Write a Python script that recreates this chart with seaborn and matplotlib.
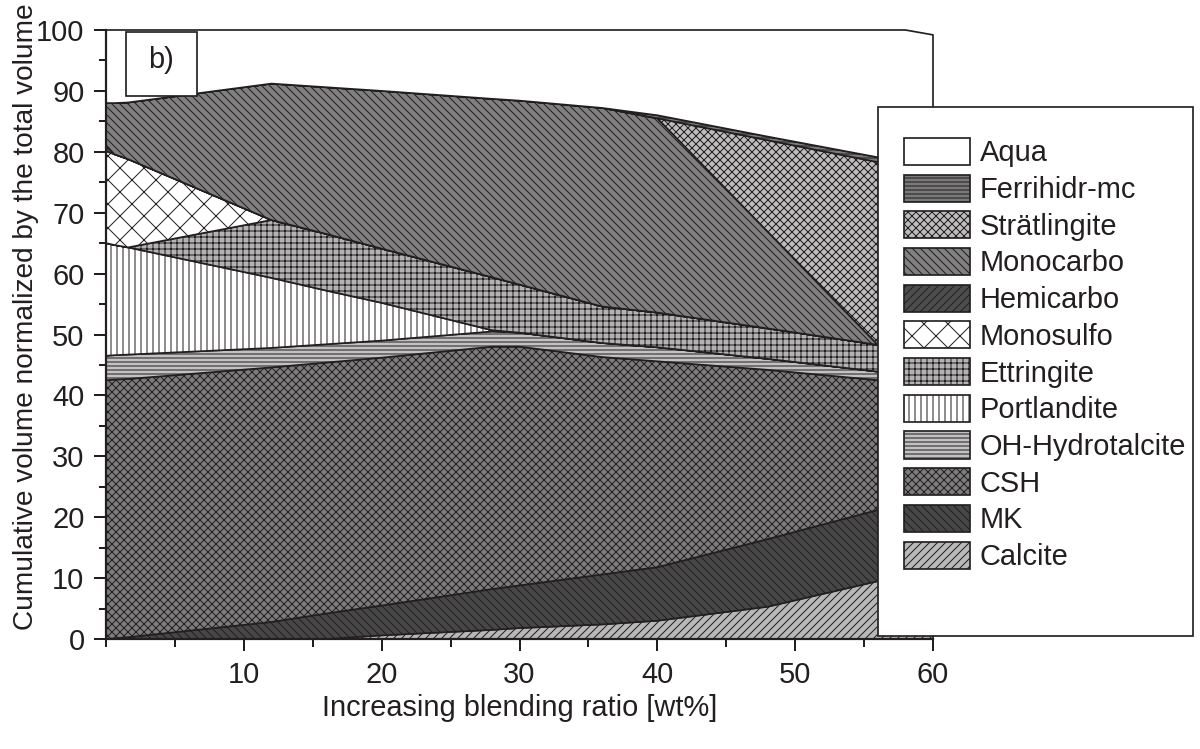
"""
Cumulative phase volume against blending ratio (panel b).

Stacked area chart with hatched grey fills and an outside legend.
Drawn at 72 dpi so that one point is one pixel and the hatch tile
is 72 px, which gives the finer hatch spacing of the original.
"""

import matplotlib
matplotlib.use("Agg")

import matplotlib.pyplot as plt
from matplotlib.patches import Rectangle
from matplotlib.ticker import MultipleLocator
import seaborn as sns


BLENDING_RATIO = [0, 0.6, 1.6, 12, 16, 20, 28, 30, 36, 40, 48, 56, 58, 60]

CALCITE = [0, 0, 0, 0, 0, 0.6, 1.5, 1.8, 2.4, 3.0, 5.3, 9.5, 10.0, 10.5]
MK = [0, 0.1, 0.3, 2.8, 4.2, 4.9, 6.7, 7.0, 8.2, 8.8, 11.1, 11.7, 12.0, 12.1]
CSH = [42.5, 42.5, 42.4, 41.8, 41.2, 40.7, 39.8, 39.2, 35.7, 33.8, 27.8,
       21.3, 20.3, 19.4]
OH_HYDROTALCITE = [4.0, 4.0, 4.0, 3.2, 3.0, 2.8, 2.5, 2.3, 2.3, 2.3, 1.8,
                   1.4, 1.3, 1.3]
PORTLANDITE = [18.5, 18.1, 17.6, 11.5, 8.8, 6.2, 0.2, 0, 0, 0, 0, 0, 0, 0]
ETTRINGITE = [0, 0, 0, 9.5, 9.3, 8.9, 8.7, 7.9, 6.0, 5.7, 5.0, 4.4, 4.3, 4.2]
MONOSULFO = [15.1, 14.9, 14.5, 0, 0, 0, 0, 0, 0, 0, 0, 0, 0, 0]
HEMICARBO = [1.0, 0, 0, 0, 0, 0, 0, 0, 0, 0, 0, 0, 0, 0]
MONOCARBO = [6.9, 8.4, 9.3, 22.4, 24.1, 25.9, 29.3, 30.2, 32.6, 31.9, 15.9,
             0, 0, 0]
STRAETLINGITE = [0, 0, 0, 0, 0, 0, 0, 0, 0, 0, 15.0, 30.0, 29.9, 29.8]
FERRIHIDRITE = [0, 0, 0, 0, 0, 0, 0, 0, 0, 0.5, 0.6, 0.8, 0.8, 0.8]
AQUA = [12.0, 12.0, 11.9, 8.8, 9.4, 10.0, 11.3, 11.6, 12.8, 14.0, 17.5,
        20.9, 21.4, 21.1]

PHASE_NAMES = [
    "Calcite", "MK", "CSH", "OH-Hydrotalcite", "Portlandite", "Ettringite",
    "Monosulfo", "Hemicarbo", "Monocarbo", "Strätlingite", "Ferrihidr-mc",
    "Aqua",
]

X_TICKS = [10, 20, 30, 40, 50, 60]
Y_TICKS = [0, 10, 20, 30, 40, 50, 60, 70, 80, 90, 100]

FACE_COLORS = [
    "#b8b8b8", "#474747", "#7d7d7d", "#c2c2c2", "#ffffff", "#b3b3b3",
    "#ffffff", "#4d4d4d", "#808080", "#bdbdbd", "#7a7a7a", "#ffffff",
]
HATCHES = [
    "///", "\\\\\\", "xxx", "---", "||", "++",
    "x", "///", "\\\\\\", "xxx", "---", "",
]

INK = "#231f20"
FONT_SIZE = 29
DPI = 72
WIDTH_PX = 1200
HEIGHT_PX = 749


def draw_chart() -> None:
    """
    Draw the stacked phase volumes and save out.png.
    """
    sns.set_theme(style="ticks")
    plt.rcParams["font.family"] = ["Liberation Sans", "DejaVu Sans"]
    plt.rcParams["hatch.linewidth"] = 1.0
    plt.rcParams["text.color"] = INK
    plt.rcParams["axes.labelcolor"] = INK
    plt.rcParams["xtick.color"] = INK
    plt.rcParams["ytick.color"] = INK

    fig = plt.figure(figsize=(WIDTH_PX / DPI, HEIGHT_PX / DPI), dpi=DPI)
    ax = fig.add_axes([106 / WIDTH_PX, 1 - 639 / HEIGHT_PX,
                       827 / WIDTH_PX, 609 / HEIGHT_PX])

    series = [
        CALCITE, MK, CSH, OH_HYDROTALCITE, PORTLANDITE, ETTRINGITE,
        MONOSULFO, HEMICARBO, MONOCARBO, STRAETLINGITE, FERRIHIDRITE, AQUA,
    ]
    ax.stackplot(
        BLENDING_RATIO,
        *series,
        labels=PHASE_NAMES,
        colors=FACE_COLORS,
        hatch=HATCHES,
        edgecolor=INK,
        linewidth=1.7,
        clip_on=False,
    )

    ax.set_xlim(0, 60)
    ax.set_ylim(0, 100)
    ax.set_xticks(X_TICKS)
    ax.set_yticks(Y_TICKS)
    ax.xaxis.set_minor_locator(MultipleLocator(5))
    ax.yaxis.set_minor_locator(MultipleLocator(5))
    ax.tick_params(which="major", length=12, width=2, direction="out",
                   labelsize=FONT_SIZE)
    ax.tick_params(which="minor", length=7.5, width=2, direction="out")
    ax.tick_params(axis="x", which="major", pad=10)
    ax.tick_params(axis="y", which="major", pad=9.5)

    sns.despine(ax=ax)
    for side in ("left", "bottom"):
        ax.spines[side].set_linewidth(2.2)
        ax.spines[side].set_color(INK)
        ax.spines[side].set_zorder(5)

    ax.set_xlabel("Increasing blending ratio [wt%]", fontsize=FONT_SIZE)
    ax.set_ylabel("Cumulative volume normalized by the total volume",
                  fontsize=28)
    ax.xaxis.set_label_coords(0.5, -0.0903)
    ax.yaxis.set_label_coords(-0.0805, 0.530)

    # panel letter box
    ax.add_patch(Rectangle((0.0242, 0.892), 0.0858, 0.105,
                           transform=ax.transAxes, facecolor="white",
                           edgecolor=INK, linewidth=1.7, zorder=6,
                           clip_on=False))
    ax.text(0.0665, 0.951, "b)", transform=ax.transAxes, fontsize=FONT_SIZE,
            ha="center", va="center", zorder=7)

    # legend frame is taller than its entries
    fig.add_artist(Rectangle((878 / WIDTH_PX, 1 - 636 / HEIGHT_PX),
                             315 / WIDTH_PX, 529 / HEIGHT_PX,
                             transform=fig.transFigure, facecolor="white",
                             edgecolor=INK, linewidth=1.7, zorder=4))

    handles, labels = ax.get_legend_handles_labels()
    legend = fig.legend(
        handles[::-1],
        labels[::-1],
        loc="upper left",
        bbox_to_anchor=(904 / WIDTH_PX, 1 - 138 / HEIGHT_PX),
        bbox_transform=fig.transFigure,
        frameon=False,
        fontsize=FONT_SIZE,
        handlelength=2.26,
        handleheight=1.06,
        handletextpad=0.35,
        labelspacing=0.25,
        borderpad=0,
        borderaxespad=0,
    )
    legend.set_zorder(5)

    fig.savefig("out.png", dpi=DPI)


def main() -> None:
    """
    Build the figure.
    """
    draw_chart()


if __name__ == "__main__":
    main()
